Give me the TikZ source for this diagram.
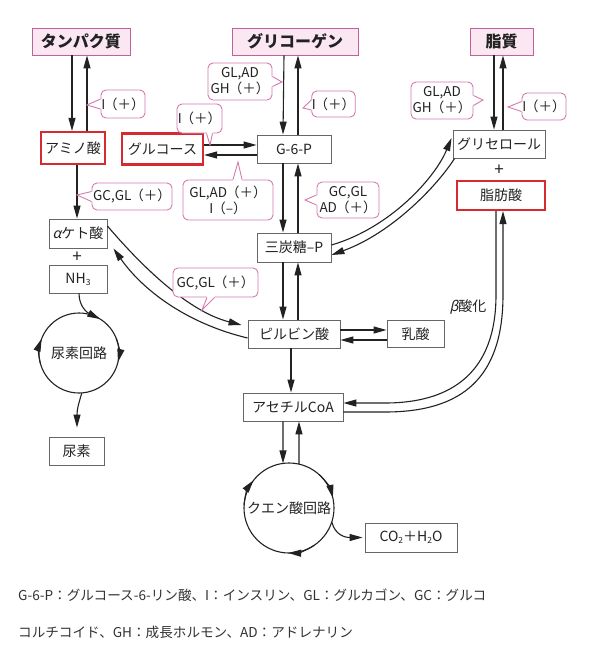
\documentclass[tikz,border=0pt]{standalone}
\usepackage{fontspec}
\setmainfont{Noto Sans CJK JP}
\newfontfamily\slnt{Noto Sans CJK JP}[FakeSlant=0.22]
\usetikzlibrary{arrows.meta,calc}
\definecolor{hdrb}{HTML}{C2609A}
\definecolor{hdrf}{HTML}{FBE7F2}
\definecolor{clb}{HTML}{D47AAE}
\definecolor{redb}{HTML}{D42A30}
\definecolor{boxb}{HTML}{666666}
\definecolor{ink}{HTML}{222222}
\definecolor{note}{HTML}{333333}
\newcommand\subs[1]{\raisebox{-0.25ex}{\fontsize{8.5}{8.5}\selectfont #1}}
\newcommand\pl{\kern-1pt（＋）}
\newcommand\calloutptr[5]{%
  \fill[white] ($(#1)+(#2)+(#4)$) -- ($(#1)+(#2)$) -- (#5) -- ($(#1)+(#3)$) -- ($(#1)+(#3)+(#4)$) -- cycle;
  \draw[clb, line width=0.9pt] ($(#1)+(#2)$) -- (#5) -- ($(#1)+(#3)$);}
\tikzset{
  sz/.style 2 args={minimum width=#1pt, minimum height=#2pt},
  arr/.style={draw=ink, line width=1.1pt, -{Triangle[length=13pt,width=7pt]}},
  ln/.style={draw=ink, line width=1.1pt},
  pbox/.style={draw=boxb, line width=0.9pt, fill=white, inner sep=0pt, font=\fontsize{14}{16}\selectfont, text=ink},
  redbox/.style={pbox, draw=redb, line width=2.2pt},
  hdr/.style={draw=hdrb, fill=hdrf, line width=0.9pt, inner sep=0pt, font=\fontsize{16}{18}\selectfont\bfseries, text=ink},
  call/.style={draw=clb, fill=white, rounded corners=5pt, line width=0.9pt, inner sep=0pt, align=center, font=\fontsize{13.5}{16}\selectfont, text=ink},
  lbl/.style={inner sep=0pt, font=\fontsize{14}{16}\selectfont, text=ink},
  plusl/.style={inner sep=0pt, font=\fontsize{17}{17}\selectfont\addfontfeatures{}, text=ink},
}
\begin{document}
\begin{tikzpicture}[x=1pt,y=-1pt]
\fill[white] (0,0) rectangle (592,654);
\useasboundingbox (0,0) rectangle (592,654);
% headers
\node[hdr, sz={98}{27}] (tanpaku) at (81,41.5) {タンパク質};
\node[hdr, sz={126}{27}] (glyc) at (295,41.5) {グリコーゲン};
\node[hdr, sz={63}{27}] (lipid) at (501.5,41.5) {脂質};
% boxes
\node[redbox, sz={64}{32}] (amino) at (73,148) {アミノ酸};
\node[redbox, sz={81}{31}] (glc) at (162.5,149) {グルコース};
\node[pbox, sz={74}{28}] (g6p) at (294,149) {G-6-P};
\node[pbox, sz={92}{28}] (glyr) at (499,144) {グリセロール};
\node[plusl] (plus1) at (499,170) {+};
\node[redbox, sz={88}{29}] (fa) at (501,195.5) {脂肪酸};
\node[pbox, sz={58}{29}] (akg) at (78,233.5) {{\slnt α}ケト酸};
\node[plusl] (plus2) at (77,257) {+};
\node[pbox, sz={58}{28}] (nh3) at (78,279) {NH\subs{3}};
\node[pbox, sz={74}{29}] (tri) at (294,247.5) {三炭糖–P};
\node[pbox, sz={92}{28}] (pyr) at (294,334) {ピルビン酸};
\node[pbox, sz={57}{27}] (lac) at (415.5,334) {乳酸};
\node[pbox, sz={100}{28}] (acoa) at (293,407) {アセチルCoA};
\node[pbox, sz={55}{28}] (urea) at (76.5,451) {尿素};
\node[pbox, sz={92}{29}] (co2) at (411,537.5) {CO\subs{2}＋H\subs{2}O};
\node[lbl] (beta) at (468,307) {{\slnt β}酸化};
% cycles
\coordinate (uc) at (79,353);
\draw[ln] (uc) circle[radius=40];
\node[lbl] (ulab) at (uc) {尿素回路};
\coordinate (tc) at (289,508);
\draw[ln] (tc) circle[radius=45];
\node[lbl] (tlab) at (tc) {クエン酸回路};
\draw[arr] ($(uc)+(-22:40)$) arc[start angle=-22, end angle=13, radius=40];
\draw[arr] ($(uc)+(165:40)$) arc[start angle=165, end angle=201, radius=40];
\draw[arr] ($(tc)+(-48:45)$) arc[start angle=-48, end angle=-13, radius=45];
\draw[arr] ($(tc)+(56:45)$) arc[start angle=56, end angle=91, radius=45];
\draw[arr] ($(tc)+(183:45)$) arc[start angle=183, end angle=218, radius=45];
\coordinate (uin) at ($(uc)+(-58:40)$);
\coordinate (uout) at ($(uc)+(86:40)$);
\coordinate (tout) at ($(tc)+(18:45)$);
\coordinate (tin) at ($(tc)+(-97.66:45)$);
\coordinate (tup) at ($(tc)+(-77.2:45)$);
\draw[arr] ($(nh3.south)+(1,0)$) .. controls (79,307) and (88,313) .. (uin);
\draw[arr] (uout) .. controls (79,403) and (77,408) .. ($(urea.north)+(0.5,-9)$);
\draw[arr] (tout) .. controls (335,535) and (345,537.5) .. ($(co2.west)+(-2,0)$);
% vertical connectors
\draw[arr] ($(tanpaku.south)+(-9,0)$) -- ($(amino.north)+(-1,0)$);
\draw[arr] ($(amino.north)+(14,0)$) -- ($(tanpaku.south)+(6,0)$);
\draw[arr] ($(amino.south)+(4,0)$) -- ($(akg.north)+(-1,0)$);
\draw[arr] ($(glyc.south)+(-11,0)$) -- ($(g6p.north)+(-11,0)$);
\draw[arr] ($(g6p.north)+(4,0)$) -- ($(glyc.south)+(3,0)$);
\draw[arr] ($(g6p.south)+(-11,0)$) -- ($(tri.north)+(-11,0)$);
\draw[arr] ($(tri.north)+(4,0)$) -- ($(g6p.south)+(4,0)$);
\draw[arr] ($(tri.south)+(-11,0)$) -- ($(pyr.north)+(-11,0)$);
\draw[arr] ($(pyr.north)+(4,0)$) -- ($(tri.south)+(4,0)$);
\draw[arr] ($(pyr.south)+(-3,0)$) -- ($(acoa.north)+(-2,0)$);
\draw[arr] ($(acoa.south)+(-10,0)$) -- (tin);
\draw[arr] (tup) -- ($(acoa.south)+(6,0)$);
\draw[arr] ($(lipid.south)+(-7.5,0)$) -- ($(glyr.north)+(-5,0)$);
\draw[arr] ($(glyr.north)+(4,0)$) -- ($(lipid.south)+(1.5,0)$);
% horizontal connectors
\draw[arr] ($(glc.east)+(0,-4)$) -- ($(g6p.west)+(0,-4)$);
\draw[arr] ($(g6p.west)+(0,6)$) -- ($(glc.east)+(0,6)$);
\draw[arr] ($(pyr.east)+(0,-4)$) -- ($(lac.west)+(0,-4)$);
\draw[arr] ($(lac.west)+(0,6)$) -- ($(pyr.east)+(0,6)$);
% curved connectors
\draw[arr] ($(tri.east)+(0,-2.5)$) .. controls (390,228) and (435,178) .. ($(glyr.west)+(-1,-6)$);
\draw[arr] ($(glyr.south west)+(2,0)$) .. controls (437,186) and (392,233) .. ($(tri.east)+(0,7.5)$);
\draw[arr] ($(akg.east)+(0,-7.5)$) .. controls (145,270) and (190,312) .. ($(pyr.west)+(-6,-9)$);
\draw[arr] ($(pyr.west)+(0,4)$) .. controls (185,323) and (142,289) .. ($(akg.south east)+(6,0)$);
\draw[arr] ($(fa.south)+(-5,0)$) -- (496,295) .. controls (496,372) and (452,403) .. (385,403) -- ($(acoa.east)+(0,-4)$);
\draw[arr] ($(acoa.east)+(0,5)$) -- (385,412) .. controls (462,412) and (503,378) .. (503,295) -- ($(fa.south)+(2,0)$);
% callouts
\node[call, sz={44}{28}] (c1) at (123,104) {I\pl};
\coordinate (t1) at (87,105);
\calloutptr{c1.west}{0,-5}{0,5}{1.5,0}{t1}
\node[call, sz={80}{27}] (c2) at (132,196.5) {GC,GL\pl};
\coordinate (t2) at (77,195);
\calloutptr{c2.west}{0,-5}{0,5}{1.5,0}{t2}
\node[call, sz={45}{29}] (c3) at (199.5,118.5) {I\pl};
\coordinate (t3) at (210,145);
\calloutptr{c3.south}{7,0}{13,0}{0,-1.5}{t3}
\node[call, sz={90}{40}] (c4) at (228,200) {GL,AD\pl\\I\kern-1pt（–）};
\coordinate (t4) at (238,162);
\calloutptr{c4.north}{5,0}{14,0}{0,1.5}{t4}
\node[call, sz={64}{37}] (c5) at (240,81.5) {GL,AD\\GH\pl};
\coordinate (t5) at (282,82);
\calloutptr{c5.east}{0,-5}{0,5}{-1.5,0}{t5}
\node[call, sz={43}{26}] (c6) at (333.5,104) {I\pl};
\coordinate (t6) at (303,108);
\calloutptr{c6.west}{0,-4}{0,6}{1.5,0}{t6}
\node[call, sz={62}{36}] (c7) at (348,200) {GC,GL\\AD\pl};
\coordinate (t7) at (305,200);
\calloutptr{c7.west}{0,-5}{0,5}{1.5,0}{t7}
\node[call, sz={62}{37}] (c8) at (442,100.5) {GL,AD\\GH\pl};
\coordinate (t8) at (483,100);
\calloutptr{c8.east}{0,-5}{0,5}{-1.5,0}{t8}
\node[call, sz={44}{27}] (c9) at (544,106.5) {I\pl};
\coordinate (t9) at (508,107);
\calloutptr{c9.west}{0,-5}{0,5}{1.5,0}{t9}
\node[call, sz={85}{29}] (c10) at (215.5,282.5) {GC,GL\pl};
\coordinate (t10) at (202,310);
\calloutptr{c10.south}{-8.5,0}{-1,0}{0,-1.5}{t10}
% footnote
\node[anchor=west, inner sep=0pt, font=\fontsize{13.6}{16}\selectfont, text=note] (fn1) at (18,595) {G-6-P：グルコース-6-リン酸、I：インスリン、GL：グルカゴン、GC：グルコ};
\node[anchor=west, inner sep=0pt, font=\fontsize{13.6}{16}\selectfont, text=note] (fn2) at (18,632) {コルチコイド、GH：成長ホルモン、AD：アドレナリン};
\end{tikzpicture}
\end{document}
